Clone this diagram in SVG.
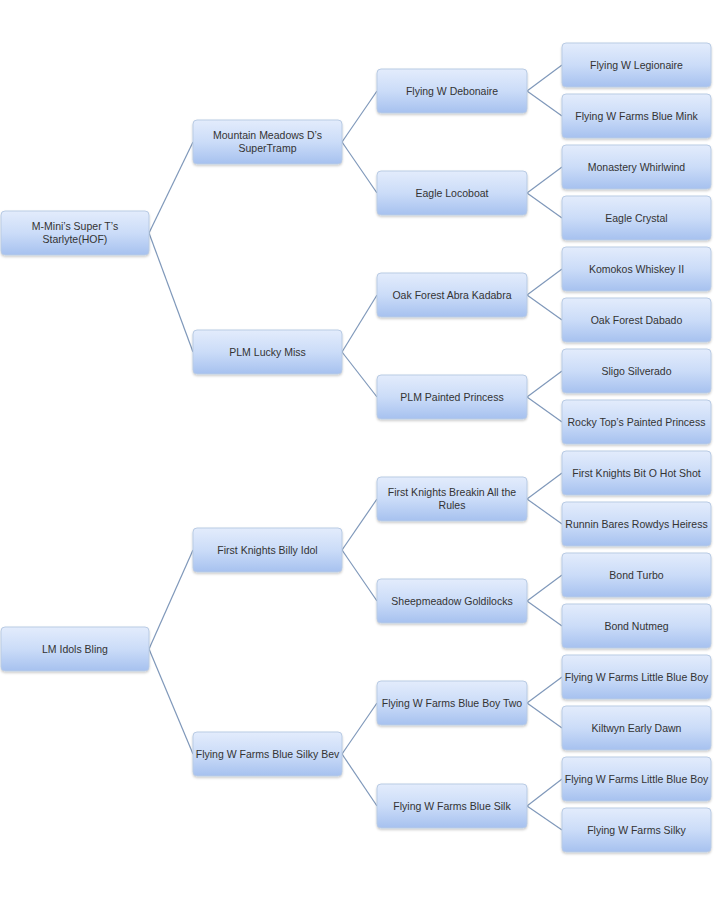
<svg xmlns="http://www.w3.org/2000/svg" width="715" height="897" viewBox="0 0 715 897">
<style>
.box{fill:url(#g);stroke:#b9cbe4;stroke-width:1;filter:url(#sh)}
.t{font-family:"Liberation Sans",Arial,sans-serif;font-size:10.5px;fill:#333;text-anchor:middle}
.c line{stroke:#7f98ba;stroke-width:1.2}
</style>
<defs>
<linearGradient id="g" x1="0" y1="0" x2="0" y2="1">
<stop offset="0" stop-color="#e3ecfc"/>
<stop offset="0.5" stop-color="#cbdcf8"/>
<stop offset="1" stop-color="#a6c1ef"/>
</linearGradient>
<filter id="sh" x="-10%" y="-20%" width="120%" height="150%">
<feDropShadow dx="0" dy="1.5" stdDeviation="1.2" flood-color="#000" flood-opacity="0.2"/>
</filter>
</defs>
<rect width="715" height="897" fill="#fff"/>
<g id="connectors" class="c">
<line x1="149" y1="233" x2="193" y2="142"/>
<line x1="149" y1="233" x2="193" y2="352"/>
<line x1="149" y1="649" x2="193" y2="550"/>
<line x1="149" y1="649" x2="193" y2="754"/>
<line x1="342" y1="142" x2="377" y2="91"/>
<line x1="342" y1="142" x2="377" y2="193"/>
<line x1="342" y1="352" x2="377" y2="295"/>
<line x1="342" y1="352" x2="377" y2="397"/>
<line x1="342" y1="550" x2="377" y2="499"/>
<line x1="342" y1="550" x2="377" y2="601"/>
<line x1="342" y1="754" x2="377" y2="703"/>
<line x1="342" y1="754" x2="377" y2="806"/>
<line x1="527" y1="91" x2="562" y2="65"/>
<line x1="527" y1="91" x2="562" y2="116"/>
<line x1="527" y1="193" x2="562" y2="167"/>
<line x1="527" y1="193" x2="562" y2="218"/>
<line x1="527" y1="295" x2="562" y2="269"/>
<line x1="527" y1="295" x2="562" y2="320"/>
<line x1="527" y1="397" x2="562" y2="371"/>
<line x1="527" y1="397" x2="562" y2="422"/>
<line x1="527" y1="499" x2="562" y2="473"/>
<line x1="527" y1="499" x2="562" y2="524"/>
<line x1="527" y1="601" x2="562" y2="575"/>
<line x1="527" y1="601" x2="562" y2="626"/>
<line x1="527" y1="703" x2="562" y2="677"/>
<line x1="527" y1="703" x2="562" y2="728"/>
<line x1="527" y1="806" x2="562" y2="779"/>
<line x1="527" y1="806" x2="562" y2="830"/>
</g>
<g id="n0a"><rect class="box" x="1" y="211" width="148" height="44" rx="4"/><text class="t" x="75" y="230">M-Mini’s Super T’s</text><text class="t" x="75" y="243">Starlyte(HOF)</text></g>
<g id="n0b"><rect class="box" x="1" y="627" width="148" height="44" rx="4"/><text class="t" x="75" y="653">LM Idols Bling</text></g>
<g id="n1a"><rect class="box" x="193" y="120" width="149" height="44" rx="4"/><text class="t" x="267.5" y="139">Mountain Meadows D’s</text><text class="t" x="267.5" y="152">SuperTramp</text></g>
<g id="n1b"><rect class="box" x="193" y="330" width="149" height="44" rx="4"/><text class="t" x="267.5" y="356">PLM Lucky Miss</text></g>
<g id="n1c"><rect class="box" x="193" y="528" width="149" height="44" rx="4"/><text class="t" x="267.5" y="554">First Knights Billy Idol</text></g>
<g id="n1d"><rect class="box" x="193" y="732" width="149" height="44" rx="4"/><text class="t" x="267.5" y="758">Flying W Farms Blue Silky Bev</text></g>
<g id="n2a"><rect class="box" x="377" y="69" width="150" height="44" rx="4"/><text class="t" x="452" y="95">Flying W Debonaire</text></g>
<g id="n2b"><rect class="box" x="377" y="171" width="150" height="44" rx="4"/><text class="t" x="452" y="197">Eagle Locoboat</text></g>
<g id="n2c"><rect class="box" x="377" y="273" width="150" height="44" rx="4"/><text class="t" x="452" y="299">Oak Forest Abra Kadabra</text></g>
<g id="n2d"><rect class="box" x="377" y="375" width="150" height="44" rx="4"/><text class="t" x="452" y="401">PLM Painted Princess</text></g>
<g id="n2e"><rect class="box" x="377" y="477" width="150" height="44" rx="4"/><text class="t" x="452" y="496">First Knights Breakin All the</text><text class="t" x="452" y="509">Rules</text></g>
<g id="n2f"><rect class="box" x="377" y="579" width="150" height="44" rx="4"/><text class="t" x="452" y="605">Sheepmeadow Goldilocks</text></g>
<g id="n2g"><rect class="box" x="377" y="681" width="150" height="44" rx="4"/><text class="t" x="452" y="707">Flying W Farms Blue Boy Two</text></g>
<g id="n2h"><rect class="box" x="377" y="784" width="150" height="44" rx="4"/><text class="t" x="452" y="810">Flying W Farms Blue Silk</text></g>
<g id="n3a"><rect class="box" x="562" y="43" width="149" height="44" rx="4"/><text class="t" x="636.5" y="69">Flying W Legionaire</text></g>
<g id="n3b"><rect class="box" x="562" y="94" width="149" height="44" rx="4"/><text class="t" x="636.5" y="120">Flying W Farms Blue Mink</text></g>
<g id="n3c"><rect class="box" x="562" y="145" width="149" height="44" rx="4"/><text class="t" x="636.5" y="171">Monastery Whirlwind</text></g>
<g id="n3d"><rect class="box" x="562" y="196" width="149" height="44" rx="4"/><text class="t" x="636.5" y="222">Eagle Crystal</text></g>
<g id="n3e"><rect class="box" x="562" y="247" width="149" height="44" rx="4"/><text class="t" x="636.5" y="273">Komokos Whiskey II</text></g>
<g id="n3f"><rect class="box" x="562" y="298" width="149" height="44" rx="4"/><text class="t" x="636.5" y="324">Oak Forest Dabado</text></g>
<g id="n3g"><rect class="box" x="562" y="349" width="149" height="44" rx="4"/><text class="t" x="636.5" y="375">Sligo Silverado</text></g>
<g id="n3h"><rect class="box" x="562" y="400" width="149" height="44" rx="4"/><text class="t" x="636.5" y="426">Rocky Top’s Painted Princess</text></g>
<g id="n3i"><rect class="box" x="562" y="451" width="149" height="44" rx="4"/><text class="t" x="636.5" y="477">First Knights Bit O Hot Shot</text></g>
<g id="n3j"><rect class="box" x="562" y="502" width="149" height="44" rx="4"/><text class="t" x="636.5" y="528">Runnin Bares Rowdys Heiress</text></g>
<g id="n3k"><rect class="box" x="562" y="553" width="149" height="44" rx="4"/><text class="t" x="636.5" y="579">Bond Turbo</text></g>
<g id="n3l"><rect class="box" x="562" y="604" width="149" height="44" rx="4"/><text class="t" x="636.5" y="630">Bond Nutmeg</text></g>
<g id="n3m"><rect class="box" x="562" y="655" width="149" height="44" rx="4"/><text class="t" x="636.5" y="681">Flying W Farms Little Blue Boy</text></g>
<g id="n3n"><rect class="box" x="562" y="706" width="149" height="44" rx="4"/><text class="t" x="636.5" y="732">Kiltwyn Early Dawn</text></g>
<g id="n3o"><rect class="box" x="562" y="757" width="149" height="44" rx="4"/><text class="t" x="636.5" y="783">Flying W Farms Little Blue Boy</text></g>
<g id="n3p"><rect class="box" x="562" y="808" width="149" height="44" rx="4"/><text class="t" x="636.5" y="834">Flying W Farms Silky</text></g>
</svg>
